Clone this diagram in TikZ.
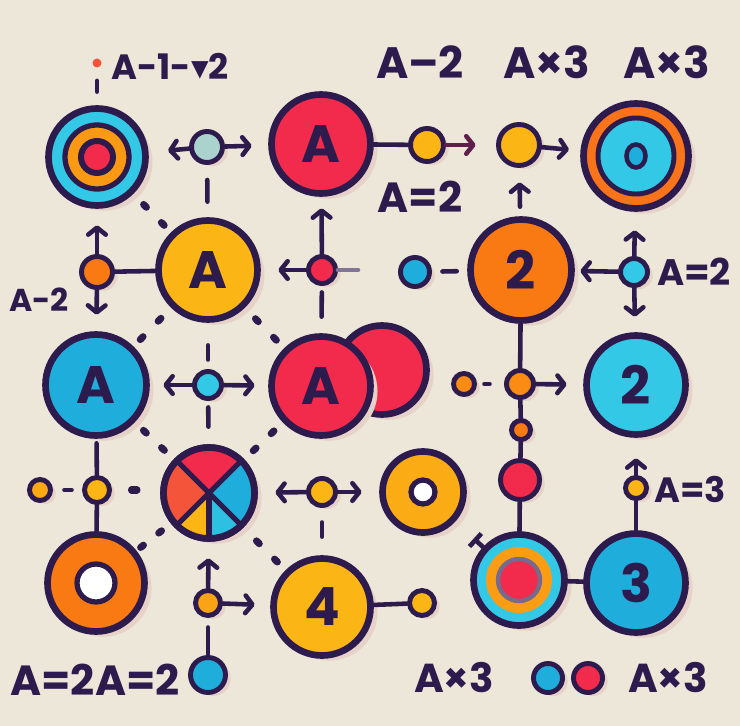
\documentclass[tikz,border=0pt]{standalone}
\usepackage{fontspec}
\setmainfont{Poppins}
\newfontfamily\symfont{DejaVu Sans}
\usepackage{tikz}
\usetikzlibrary{arrows.meta,calc,shadows,shapes.geometric}
\definecolor{paper}{HTML}{ECE7D8}
\definecolor{ink}{HTML}{2D1B4E}
\definecolor{cherry}{HTML}{F22B4C}
\definecolor{flame}{HTML}{F4553A}
\definecolor{amber}{HTML}{FBB515}
\definecolor{tangerine}{HTML}{F97A12}
\definecolor{sky}{HTML}{1FAEDC}
\definecolor{aqua}{HTML}{33C8E6}
\definecolor{mint}{HTML}{A9D3CC}
\definecolor{blush}{HTML}{E6D2C8}
\tikzset{
  disc/.style={circle, draw=ink, line width=3.8pt, inner sep=0pt, minimum size=#1, text=ink,
    font=\bfseries\fontsize{30}{30}\selectfont,
    general shadow={fill=blush, shadow xshift=4pt, shadow yshift=-3pt}},
  knob/.style={circle, draw=ink, line width=2.8pt, inner sep=0pt, minimum size=#1,
    general shadow={fill=blush, shadow xshift=3pt, shadow yshift=-2pt}},
  ring/.style={circle, draw=ink, line width=3pt, inner sep=0pt, minimum size=#1},
  link/.style={draw=ink, line width=2.6pt, line cap=round},
  arr/.style={link, -{Straight Barb[round,length=4pt,width=10pt]}},
  gap/.style={draw=ink, line width=4pt, line cap=round},
  lbl/.style={text=ink, inner sep=0pt, font=\bfseries\fontsize{#1}{#1}\selectfont}
}
\newcommand\dotpair[2]{\foreach \f in {0.42,0.58}{\draw[gap] ($(#1)!\f!(#2)$) -- ($(#1)!{\f+0.025}!(#2)$);}}

\begin{document}
\begin{tikzpicture}[x=0.02cm,y=-0.02cm]
\fill[paper] (0,0) rectangle (740,726);
\useasboundingbox (0,0) rectangle (740,726);

\node[disc=1.94cm, fill=aqua] (t1) at (97,157) {};
\node[ring=1.28cm, fill=amber!55!tangerine] (t1a) at (t1) {};
\node[ring=0.64cm, line width=3.4pt, fill=cherry] (t1b) at (t1) {};
\node[circle, fill=flame, inner sep=0pt, minimum size=0.18cm] (tip) at (97,63) {};
\node[knob=0.62cm, fill=mint] (s1) at (207,147) {};
\node[disc=1.98cm, fill=cherry] (ra) at (321,144) {A};
\node[knob=0.66cm, fill=amber] (sy1) at (427,145) {};
\node[knob=0.82cm, fill=amber] (y2) at (519,145) {};
\node[disc=2.1cm, fill=tangerine!80!flame] (t2) at (636,156) {};
\node[ring=1.52cm, line width=2.8pt, fill=aqua] (t2a) at (t2) {};
\node[ellipse, draw=ink, line width=2.6pt, fill=sky, inner sep=0pt, minimum width=0.38cm, minimum height=0.46cm] (t2b) at (t2) {};

\node[knob=0.62cm, fill=tangerine] (so) at (97,272) {};
\node[disc=1.98cm, fill=amber] (ya) at (208,270) {A};
\node[knob=0.54cm, fill=cherry] (sr) at (322,270) {};
\coordinate (sre) at (358,270);
\node[knob=0.58cm, fill=sky] (sb) at (415,272) {};
\node[disc=2.02cm, fill=tangerine] (o2) at (521,270) {2};
\node[knob=0.54cm, fill=aqua] (c1) at (634,272) {};

\node[disc=2.02cm, fill=sky] (bA) at (96,385) {A};
\node[knob=0.54cm, fill=aqua] (sc) at (208,385) {};
\node[disc=1.78cm, fill=cherry] (rr) at (382,370) {};
\node[disc=1.98cm, fill=cherry] (rb) at (321,386) {A};
\node[knob=0.42cm, fill=tangerine!70!amber] (so2) at (464,384) {};
\node[knob=0.54cm, fill=tangerine!70!amber] (so3) at (520,384) {};
\node[knob=0.38cm, fill=tangerine] (sr2) at (521,430) {};
\node[disc=1.98cm, fill=aqua] (cy) at (636,385) {2};

\node[knob=0.42cm, fill=amber!80!tangerine] (sy3) at (40,490) {};
\node[knob=0.5cm, fill=amber] (sy4) at (97,490) {};
\coordinate (sy4e) at (137,490);
\node[disc=1.82cm, fill=paper] (cx) at (209,493) {};
\fill[cherry] (cx.center) -- ++(45:0.86cm) arc[start angle=45, end angle=135, radius=0.86cm] -- cycle;
\fill[flame] (cx.center) -- ++(135:0.86cm) arc[start angle=135, end angle=225, radius=0.86cm] -- cycle;
\fill[sky] (cx.center) -- ++(-45:0.86cm) arc[start angle=-45, end angle=45, radius=0.86cm] -- cycle;
\fill[amber] (cx.center) -- ++(225:0.86cm) arc[start angle=225, end angle=270, radius=0.86cm] -- cycle;
\fill[aqua!70!sky] (cx.center) -- ++(270:0.86cm) arc[start angle=270, end angle=315, radius=0.86cm] -- cycle;
\draw[link, line width=3pt] ($(cx.center)+(45:0.88cm)$) -- ($(cx.center)+(225:0.88cm)$);
\draw[link, line width=3pt] ($(cx.center)+(135:0.88cm)$) -- ($(cx.center)+(315:0.88cm)$);
\draw[link, line width=3pt] (cx.center) -- ++(270:0.88cm);
\draw[ink, line width=3.8pt] (cx.center) circle[radius=0.91cm];
\node[knob=0.54cm, fill=amber] (sy5) at (322,492) {};
\node[disc=1.62cm, fill=amber!85!tangerine] (yd) at (423,492) {};
\node[ring=0.48cm, fill=white] (ydi) at (yd) {};
\node[knob=0.78cm, fill=cherry] (rd) at (520,480) {};
\node[knob=0.42cm, fill=amber] (sy6) at (636,488) {};

\node[disc=1.94cm, fill=tangerine] (od) at (96,583) {};
\node[ring=0.76cm, fill=white] (odi) at (od) {};
\node[knob=0.5cm, fill=amber!70!tangerine] (sob) at (208,603) {};
\node[disc=1.94cm, fill=amber] (y4) at (322,607) {4};
\node[knob=0.5cm, fill=amber] (sy7) at (422,603) {};
\node[disc=1.82cm, fill=aqua] (t3) at (519,580) {};
\node[circle, fill=amber!60!tangerine, inner sep=0pt, minimum size=1.32cm] (t3a) at (t3) {};
\node[ring=0.84cm, draw=ink!65, line width=2.5pt, fill=cherry] (t3b) at (t3) {};
\node[disc=1.98cm, fill=sky] (bl3) at (636,583) {3};
\node[knob=0.7cm, fill=sky] (sbl) at (208,675) {};
\node[knob=0.58cm, fill=sky] (bb) at (548,678) {};
\node[knob=0.58cm, fill=cherry] (br) at (588,678) {};

\node[lbl=20] (lab1) at (170,66) {A-1-{\symfont ▾}2};
\node[lbl=25] (lab2) at (420,62) {A–2};
\node[lbl=25] (lab3) at (547,62) {A×3};
\node[lbl=25] (lab4) at (667,62) {A×3};
\node[lbl=24] (lab5) at (420,197) {A=2};
\node[lbl=18] (lab6) at (39,300) {A-2};
\node[lbl=21] (lab7) at (694,272) {A=2};
\node[lbl=20] (lab8) at (690,489) {A=3};
\node[lbl=24] (lab9) at (95,680) {A=2A=2};
\node[lbl=23] (lab10) at (454,678) {A×3};
\node[lbl=23] (lab11) at (668,678) {A×3};

\draw[arr, shorten >=0.39cm] (s1) -- (t1);
\draw[arr, shorten >=0.33cm] (s1) -- (ra);
\draw[link, shorten <=0.3cm, shorten >=0.31cm] (s1) -- (ya);
\draw[link, shorten <=0.27cm, shorten >=0.26cm] (t1) -- (tip);
\draw[link] (ra) -- (sy1);
\draw[arr, draw=ink!75!cherry, shorten >=0.41cm] (sy1) -- (y2);
\draw[arr, shorten >=0.23cm] (y2) -- (t2);
\draw[arr, shorten <=0.19cm, shorten >=0.29cm] (o2) -- (y2);
\draw[arr, shorten >=0.37cm] (c1) -- (t2);
\draw[arr, shorten >=0.11cm] (c1) -- (o2);
\draw[arr, shorten >=0.31cm] (c1) -- (cy);
\draw[arr, shorten >=0.33cm] (so) -- (t1);
\draw[arr, shorten >=0.33cm] (so) -- (bA);
\draw[link] (so) -- (ya);
\draw[arr, shorten >=0.35cm] (sr) -- (ya);
\draw[arr, shorten >=0.23cm] (sr) -- (ra);
\draw[link, draw=ink!60] (sr) -- (sre);
\draw[link, shorten <=0.13cm, shorten >=0.33cm] (sr) -- (rb);
\draw[link, shorten <=0.21cm, shorten >=0.21cm] (sb) -- (o2);
\draw[arr, shorten >=0.27cm] (sc) -- (bA);
\draw[arr, shorten >=0.27cm] (sc) -- (rb);
\draw[link, shorten <=0.19cm, shorten >=0.45cm] (sc) -- (ya);
\draw[link, shorten <=0.13cm, shorten >=0.35cm] (sc) -- (cx);
\draw[link, shorten <=0.15cm, shorten >=0.29cm] (so2) -- (so3);
\draw[arr, shorten >=0.33cm] (so3) -- (cy);
\draw[link] (o2) -- (so3);
\draw[link] (so3) -- (sr2);
\draw[link] (sr2) -- (rd);
\draw[link] (rd) -- (t3);
\draw[link, shorten <=0.23cm, shorten >=0.21cm] (sy3) -- (sy4);
\draw[gap, shorten <=0.39cm] (sy4) -- (sy4e);
\draw[link, shorten >=0.09cm] (sy4) -- (bA);
\draw[link] (sy4) -- (od);
\draw[arr, shorten >=0.35cm] (sy5) -- (cx);
\draw[arr, shorten >=0.35cm] (sy5) -- (yd);
\draw[link, shorten <=0.29cm, shorten >=0.37cm] (sy5) -- (y4);
\draw[link, -{Bar[width=10pt]}, shorten >=0.5cm] (t3) -- (yd);
\draw[arr, shorten >=0.41cm] (sy6) -- (cy);
\draw[link] (sy6) -- (bl3);
\draw[arr, shorten >=0.33cm] (sob) -- (cx);
\draw[arr, shorten >=0.31cm] (sob) -- (y4);
\draw[link, shorten <=0.19cm] (sob) -- (sbl);
\draw[link] (y4) -- (sy7);
\draw[link] (t3) -- (bl3);

\dotpair{t1}{ya}
\dotpair{ya}{rb}
\dotpair{ya}{bA}
\dotpair{bA}{cx}
\dotpair{rb}{cx}
\dotpair{cx}{od}
\dotpair{cx}{y4}
\end{tikzpicture}
\end{document}
